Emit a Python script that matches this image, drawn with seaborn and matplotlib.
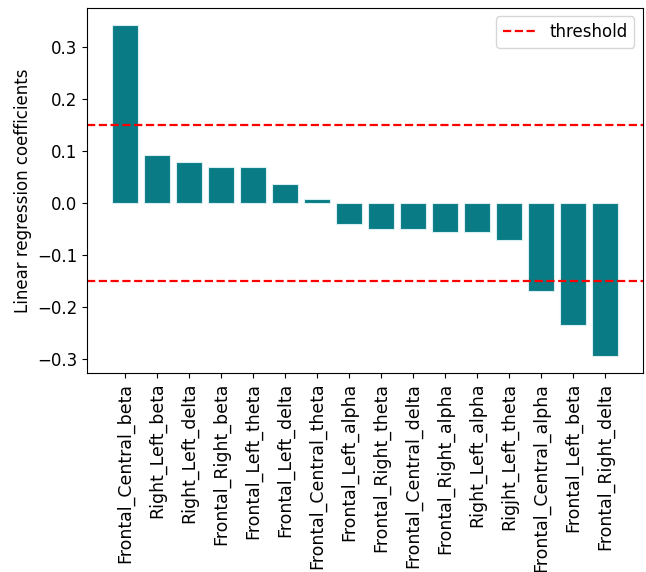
import seaborn as sns
import matplotlib.pyplot as plt
import pandas as pd

features = ['Frontal_Central_beta', 'Right_Left_beta', 'Right_Left_delta', 'Frontal_Right_beta',
            'Frontal_Left_theta', 'Frontal_Left_delta', 'Frontal_Central_theta', 'Frontal_Left_alpha',
            'Frontal_Right_theta', 'Frontal_Central_delta', 'Frontal_Right_alpha', 'Right_Left_alpha',
            'Rigjht_Left_theta', 'Frontal_Central_alpha', 'Frontal_Left_beta', 'Frontal_Right_delta']
coefs = [0.343, 0.092, 0.079, 0.069, 0.069, 0.036, 0.007, -0.040,
         -0.050, -0.050, -0.056, -0.056, -0.072, -0.170, -0.234, -0.295]
threshold = 0.15

df = pd.DataFrame({'feature': features, 'coef': coefs})

plt.rcParams['font.size'] = 12
fig = plt.figure(figsize=(6.46, 5.72), dpi=100)
ax = fig.add_axes([0.135, 0.348, 0.86, 0.638])

sns.barplot(data=df, x='feature', y='coef', color='#087b85', saturation=1,
            edgecolor='#d8eef0', linewidth=0.8, ax=ax)
ax.axhline(threshold, color='red', linestyle='--', linewidth=1.6, label='threshold')
ax.axhline(-threshold, color='red', linestyle='--', linewidth=1.6)

# matplotlib-style default margins around the bars
n = len(features)
pad = 0.05 * (n - 1 + 0.8)
ax.set_xlim(-0.4 - pad, n - 1 + 0.4 + pad)

ax.set_xlabel('')
ax.set_ylabel('Linear regression coefficients')
ax.tick_params(axis='x', rotation=90, labelsize=12.5)
ax.legend(loc='upper right')

fig.savefig('out.png', dpi=100)
